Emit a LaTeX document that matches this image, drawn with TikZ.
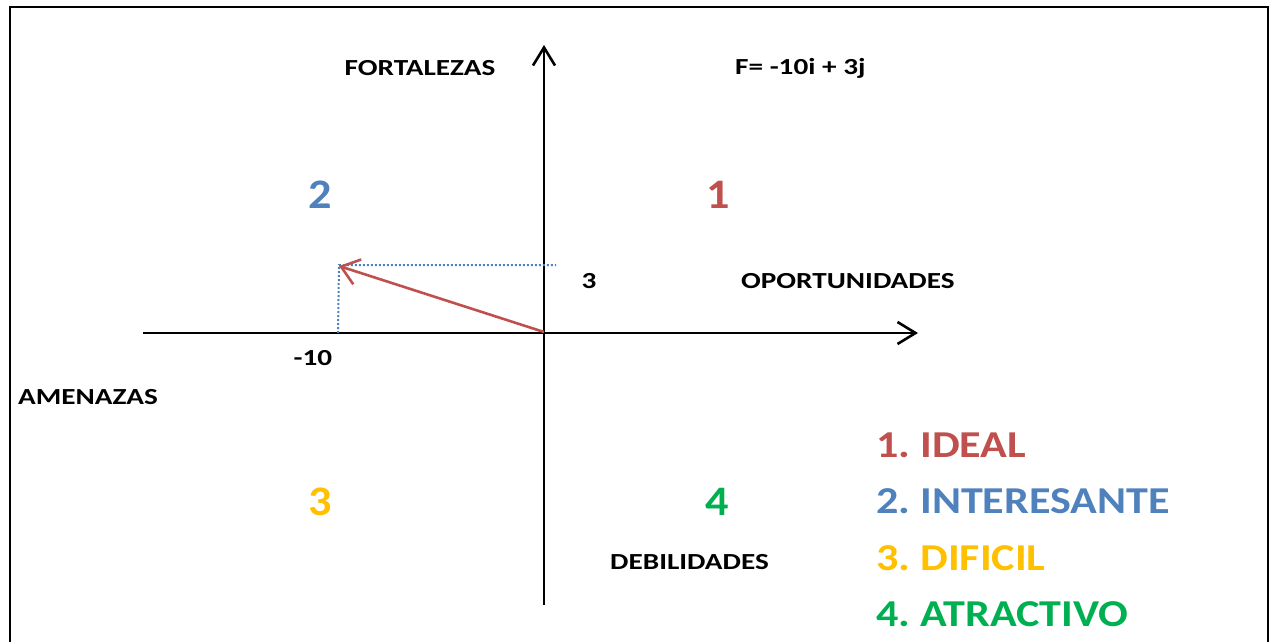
\documentclass[tikz,border=0pt]{standalone}
\usepackage{fontspec}
\setmainfont{Carlito}
\newfontfamily\lblfont{Carlito}[FakeStretch=1.27]
\newfontfamily\legfont{Carlito}[FakeStretch=1.16]
\newfontfamily\quadfont{Carlito}[FakeStretch=1.1]
\usetikzlibrary{arrows.meta}
\definecolor{cred}{HTML}{C0504D}
\definecolor{cblue}{HTML}{4F81BD}
\definecolor{cyellow}{HTML}{FFC000}
\definecolor{cgreen}{HTML}{00B050}
\tikzset{
  lbl/.style={font=\lblfont\fontsize{23}{26}\selectfont\bfseries\frenchspacing, inner sep=0pt},
  quad/.style={font=\quadfont\fontsize{42}{46}\selectfont\bfseries, inner sep=0pt},
  legend/.style={font=\legfont\fontsize{38}{42}\selectfont\bfseries\frenchspacing, inner sep=0pt, anchor=west},
  axis/.style={line width=2.6pt, -{Straight Barb[length=18pt,width=22pt,line width=2.6pt]}},
}
\begin{document}
\begin{tikzpicture}[x=1pt,y=-1pt]
\useasboundingbox (0,0) rectangle (1272,642);
% frame
\draw[line width=2pt] (9.5,660) -- (9.5,7) -- (1268,7) -- (1268,660);
% axis coordinates
\coordinate (xl) at (143,333);
\coordinate (xr) at (918,333);
\coordinate (yb) at (544,605);
\coordinate (yt) at (544,45);
\coordinate (o) at (544,332);
\coordinate (p) at (339,266);
\coordinate (px) at (338,333);
\coordinate (py) at (556,265);
\draw[axis] (xl) -- (xr);
\draw[axis] (yb) -- (yt);
% dotted projection
\draw[cblue, line width=2pt, dotted] (px) -- (p |- py) -- (py);
% vector
\draw[cred, line width=2.6pt, -{Straight Barb[length=17pt,width=26pt,line width=2.6pt]}] (o) -- (p);
% labels
\node[lbl] (fort) at (420,68) {FORTALEZAS};
\node[lbl, anchor=west] (eq) at (735,68) {F= -10i + 3j};
\node[lbl] (three) at (589,281) {3};
\node[lbl, anchor=west] (oport) at (741,281) {OPORTUNIDADES};
\node[lbl] (ten) at (313,358) {-10};
\node[lbl, anchor=west] (amen) at (18,397) {AMENAZAS};
\node[lbl, anchor=west] (deb) at (610,562) {DEBILIDADES};
% quadrants
\node[quad, text=cblue] (q2) at (320,195) {2};
\node[quad, text=cred] (q1) at (718,195) {1};
\node[quad, text=cyellow] (q3) at (320,502) {3};
\node[quad, text=cgreen] (q4) at (717,502) {4};
% legend
\node[legend, text=cred] (l1) at (876,445) {1. IDEAL};
\node[legend, text=cblue] (l2) at (876,501) {2. INTERESANTE};
\node[legend, text=cyellow] (l3) at (876,558) {3. DIFICIL};
\node[legend, text=cgreen] (l4) at (876,614) {4. ATRACTIVO};
\end{tikzpicture}
\end{document}
